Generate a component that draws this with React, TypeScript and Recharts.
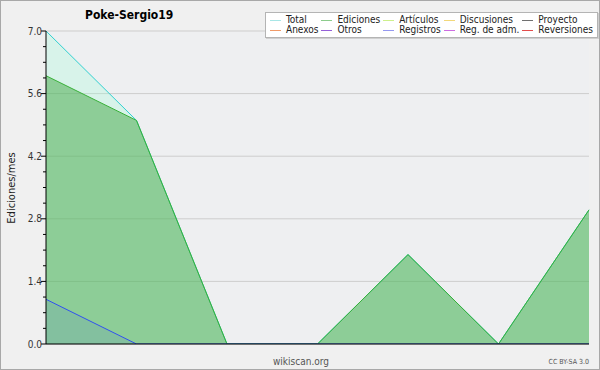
import React from "react";
import { AreaChart, Area, XAxis, YAxis, CartesianGrid } from "recharts";

// monthly edit counts, one slot per month (no labels shown on the axis)
const months = ["m1", "m2", "m3", "m4", "m5", "m6", "m7"];
const totalSeries = [7, 5, 0, 0, 2, 0, 3];
const edicionesSeries = [6, 5, 0, 0, 2, 0, 3];
const registrosSeries = [1, 0, 0, 0, 0, 0, 0];

const yTicks = [
  0, 0.35, 0.7, 1.05, 1.4, 1.75, 2.1, 2.45, 2.8, 3.15, 3.5, 3.85, 4.2, 4.55,
  4.9, 5.25, 5.6, 5.95, 6.3, 6.65, 7,
];
const yMajor = [0, 1.4, 2.8, 4.2, 5.6, 7];

const legendItems = [
  { name: "Total", color: "#a8e6e6" },
  { name: "Ediciones", color: "#8ccc8c" },
  { name: "Artículos", color: "#cdf08c" },
  { name: "Discusiones", color: "#f2d87a" },
  { name: "Proyecto", color: "#707070" },
  { name: "Anexos", color: "#f09a68" },
  { name: "Otros", color: "#9560d8" },
  { name: "Registros", color: "#9598f0" },
  { name: "Reg. de adm.", color: "#cd6ce2" },
  { name: "Reversiones", color: "#e24c4c" },
];

const data = months.map((m, i) => ({
  month: m,
  total: totalSeries[i],
  ediciones: edicionesSeries[i],
  registros: registrosSeries[i],
}));

const FONT = "'DejaVu Sans Condensed', 'DejaVu Sans', sans-serif";

const isMajor = (v: number) => yMajor.some((m) => Math.abs(m - v) < 1e-6);

const YTick = (props: any) => {
  const { x, y, payload } = props;
  const major = isMajor(payload.value);
  return (
    <g>
      <line x1={x - (major ? 5 : 3)} x2={x} y1={y} y2={y} stroke="#000" />
      {major && (
        <text
          x={x - 4}
          y={y + 3.5}
          textAnchor="end"
          fontSize={10}
          fontFamily={FONT}
          fill="#333"
        >
          {payload.value.toFixed(1)}
        </text>
      )}
    </g>
  );
};

const LegendBox = () => (
  <div
    style={{
      position: "absolute",
      left: 264,
      top: 11,
      display: "grid",
      gridTemplateColumns: "repeat(5, auto)",
      columnGap: 3,
      padding: "2px 4px 2px 4px",
      background: "#fff",
      border: "1px solid #b4b4b4",
      boxShadow: "1px 1px 0 #d0d0d0",
      fontSize: 10,
      lineHeight: "10px",
      color: "#222",
    }}
  >
    {legendItems.map((it) => (
      <div
        key={it.name}
        style={{ display: "flex", alignItems: "center", whiteSpace: "nowrap" }}
      >
        <span
          style={{
            display: "inline-block",
            width: 11,
            height: 1,
            background: it.color,
            marginRight: 5,
          }}
        />
        {it.name}
      </div>
    ))}
  </div>
);

export default function App() {
  return (
    <div
      style={{
        position: "absolute",
        left: 0,
        top: 0,
        width: 600,
        height: 370,
        background: "#f0f0f0",
        border: "1px solid #a8a8a8",
        boxSizing: "border-box",
        fontFamily: FONT,
      }}
    >
      <div style={{ position: "absolute", left: -1, top: -1 }}>
        <AreaChart
          width={600}
          height={370}
          data={data}
          margin={{ top: 31, right: 11, bottom: 22, left: 6 }}
        >
          <CartesianGrid
            vertical={false}
            horizontalValues={yMajor}
            stroke="#cdcdcd"
            fill="#eeeff1"
          />
          <XAxis
            dataKey="month"
            tick={false}
            tickSize={4}
            height={4}
            stroke="#000"
            padding={{ left: 0, right: 0 }}
          />
          <YAxis
            domain={[0, 7]}
            ticks={yTicks}
            interval={0}
            width={40}
            tickSize={0}
            tickMargin={0}
            tickLine={false}
            tick={<YTick />}
            stroke="#000"
            allowDataOverflow
          />
          <Area
            type="linear"
            dataKey="total"
            stroke="#30d0d0"
            fill="#a0ffd8"
            fillOpacity={0.27}
            isAnimationActive={false}
          />
          <Area
            type="linear"
            dataKey="ediciones"
            stroke="#38b038"
            fill="#33a033"
            fillOpacity={0.45}
            isAnimationActive={false}
          />
          <Area
            type="linear"
            dataKey="registros"
            stroke="#3050f0"
            fill="#3050f0"
            fillOpacity={0.1}
            isAnimationActive={false}
          />
        </AreaChart>
      </div>
      <div
        style={{
          position: "absolute",
          left: 84,
          top: 7,
          fontSize: 12,
          fontWeight: "bold",
          color: "#000",
        }}
      >
        Poke-Sergio19
      </div>
      <div
        style={{
          position: "absolute",
          left: 10,
          top: 187,
          fontSize: 11,
          color: "#222",
          transform: "translate(-50%, -50%) rotate(-90deg)",
          whiteSpace: "nowrap",
        }}
      >
        Ediciones/mes
      </div>
      <LegendBox />
      <div
        style={{
          position: "absolute",
          left: 300,
          top: 355,
          transform: "translateX(-50%)",
          fontSize: 10,
          color: "#555",
        }}
      >
        wikiscan.org
      </div>
      <div
        style={{
          position: "absolute",
          right: 10,
          top: 357,
          fontSize: 7,
          color: "#555",
        }}
      >
        CC BY-SA 3.0
      </div>
    </div>
  );
}
